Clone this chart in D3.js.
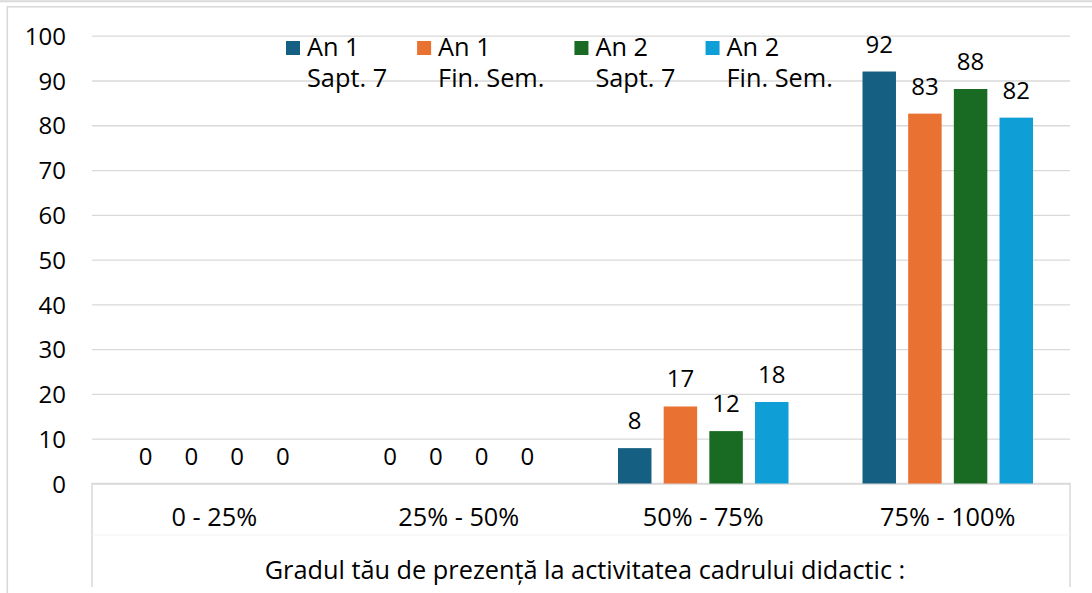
<!DOCTYPE html>
<html>
<head>
<meta charset="utf-8">
<script src="https://cdn.jsdelivr.net/npm/d3@7"></script>
<style>
  body { margin: 0; background: #fff; }
  svg { display: block; font-family: 'Open Sans', sans-serif; }
</style>
</head>
<body>
<script>
let categories = ['0 - 25%', '25% - 50%', '50% - 75%', '75% - 100%']
let seriesNames = [['An 1', 'Sapt. 7'], ['An 1', 'Fin. Sem.'], ['An 2', 'Sapt. 7'], ['An 2', 'Fin. Sem.']]
let an1Sapt7 = [0, 0, 7.9, 92.0]
let an1FinSem = [0, 0, 17.2, 82.6]
let an2Sapt7 = [0, 0, 11.7, 88.1]
let an2FinSem = [0, 0, 18.2, 81.7]
let yTicks = [0, 10, 20, 30, 40, 50, 60, 70, 80, 90, 100]
let axisTitle = 'Gradul tău de prezență la activitatea cadrului didactic :'

let seriesValues = [an1Sapt7, an1FinSem, an2Sapt7, an2FinSem]
let colors = ['#156082', '#E97132', '#196B24', '#0F9ED5']

let
  width = 1092,
  height = 593

let margin = { top: 36, bottom: 109, left: 92, right: 22 }
let fontSize = 24
let wordSize = 25.3
let gridColor = '#d9d9d9'

let svg = d3.select('body')
  .append('svg')
  .attr('width', width)
  .attr('height', height)

// chart frame (cropped)
svg.append('line')
  .attr('x1', 0).attr('x2', width)
  .attr('y1', 1.3).attr('y2', 1.3)
  .attr('stroke', gridColor).attr('stroke-width', 2)
svg.append('rect')
  .attr('x', 7.3).attr('y', 6.8)
  .attr('width', width + 20).attr('height', height + 20)
  .attr('fill', 'none')
  .attr('stroke', gridColor).attr('stroke-width', 1.6)

let x0 = d3.scaleBand()
  .domain(categories)
  .range([margin.left, width - margin.right])

let keys = seriesNames.map((s, i) => 's' + i)
let x1 = d3.scaleBand()
  .domain(keys)
  .range([0, x0.bandwidth()])
  .paddingInner(0.267)
  .paddingOuter(0.81)

let y = d3.scaleLinear()
  .domain([0, 100])
  .range([height - margin.bottom - 0.5, margin.top - 0.3])

// gridlines + y labels
let yAxis = svg.append('g')
  .attr('transform', `translate(${margin.left}, 0)`)
  .call(d3.axisLeft(y)
    .tickValues(yTicks)
    .tickSize(-(width - margin.left - margin.right))
    .tickPadding(26))

yAxis.select('.domain').remove()
yAxis.selectAll('.tick line')
  .attr('stroke', gridColor)
  .attr('stroke-width', 1.3)
yAxis.selectAll('.tick text')
  .attr('font-size', fontSize + 'px')
  .attr('font-family', "'Open Sans', sans-serif")
  .attr('fill', '#000')
  .attr('dy', '0.36em')

// category axis box
let axisY = y(0)
let boxBottom = 587
let xLeft = margin.left
let xRight = width - margin.right
svg.append('path')
  .attr('d', `M${xLeft},${boxBottom}V${axisY}H${xRight}V${boxBottom}`)
  .attr('fill', 'none')
  .attr('stroke', gridColor)
  .attr('stroke-width', 1.5)
svg.append('line')
  .attr('x1', xLeft).attr('x2', xRight)
  .attr('y1', 535).attr('y2', 535)
  .attr('stroke', '#f3f3f3')
  .attr('stroke-width', 1)

// bars
let barData = []
categories.forEach((cat, ci) => {
  seriesValues.forEach((vals, si) => {
    barData.push({ cat: cat, key: keys[si], value: vals[ci], color: colors[si] })
  })
})

let groups = svg.append('g')

groups.selectAll('rect')
  .data(barData)
  .enter()
  .append('rect')
  .attr('x', d => x0(d.cat) + x1(d.key))
  .attr('y', d => y(d.value))
  .attr('width', x1.bandwidth())
  .attr('height', d => y(0) - y(d.value))
  .attr('fill', d => d.color)

groups.selectAll('text')
  .data(barData)
  .enter()
  .append('text')
  .attr('x', d => x0(d.cat) + x1(d.key) + x1.bandwidth() / 2)
  .attr('y', d => y(d.value) - 19)
  .attr('text-anchor', 'middle')
  .attr('font-size', fontSize + 'px')
  .attr('fill', '#000')
  .text(d => d3.format('.0f')(d.value))

// category labels
svg.append('g')
  .selectAll('text')
  .data(categories)
  .enter()
  .append('text')
  .attr('x', d => x0(d) + x0.bandwidth() / 2)
  .attr('y', 526)
  .attr('text-anchor', 'middle')
  .attr('font-size', wordSize + 'px')
  .attr('fill', '#000')
  .text(d => d)

svg.append('text')
  .attr('x', (xLeft + xRight) / 2 + 4)
  .attr('y', 579)
  .attr('text-anchor', 'middle')
  .attr('font-size', wordSize + 'px')
  .attr('fill', '#000')
  .text(axisTitle)

// legend
let legend = svg.append('g')
let lx = 286
seriesNames.forEach((lines, i) => {
  let item = legend.append('g').attr('transform', `translate(${lx}, 0)`)
  item.append('rect')
    .attr('x', 0)
    .attr('y', 41)
    .attr('width', 14)
    .attr('height', 14)
    .attr('fill', colors[i])
  let maxW = 0
  lines.forEach((t, j) => {
    let txt = item.append('text')
      .attr('x', 21)
      .attr('y', 56 + j * 31)
      .attr('font-size', wordSize + 'px')
      .attr('fill', '#000')
      .text(t)
    maxW = Math.max(maxW, txt.node().getComputedTextLength())
  })
  lx += 21 + maxW + 30
})
</script>
</body>
</html>
